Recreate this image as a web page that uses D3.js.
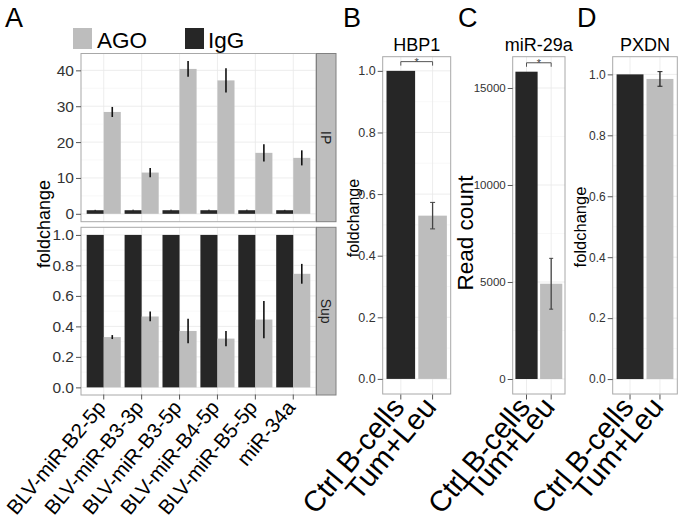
<!DOCTYPE html>
<html><head><meta charset="utf-8">
<script src="https://cdn.jsdelivr.net/npm/d3@7"></script>
<style>
html,body{margin:0;padding:0;background:#fff;}
svg text{font-family:"Liberation Sans",Arial,Helvetica,sans-serif;}
</style></head>
<body><svg id="c" width="680" height="526"></svg>
<script>
// ---------- DATA ----------
const mirs = ["BLV-miR-B2-5p","BLV-miR-B3-3p","BLV-miR-B3-5p","BLV-miR-B4-5p","BLV-miR-B5-5p","miR-34a"];
const ipAGO = [28.4, 11.5, 40.4, 37.2, 17.0, 15.6];
const ipAGOerr = [1.4, 1.3, 2.2, 3.4, 2.4, 2.1];
const ipIgG = [1, 1, 1, 1, 1, 1];
const ipIgGerr = [0.1, 0.1, 0.1, 0.1, 0.1, 0.1];
const supAGO = [0.33, 0.465, 0.37, 0.32, 0.445, 0.745];
const supAGOerr = [0.013, 0.032, 0.08, 0.05, 0.122, 0.065];
const supIgG = [1, 1, 1, 1, 1, 1];
const supIgGerr = [0, 0, 0, 0, 0, 0];
const groups = ["Ctrl B-cells", "Tum+Leu"];
const hbp1 = [1.0, 0.53];
const hbp1Err = [0, 0.043];
const mir29a = [15840, 4910];
const mir29aErr = [0, 1310];
const pxdn = [1.0, 0.985];
const pxdnErr = [0, 0.024];
const legendLabels = ["AGO", "IgG"];
const ticksFold = [0, 0.2, 0.4, 0.6, 0.8, 1.0];
const minorFold = [0.1, 0.3, 0.5, 0.7, 0.9];
const ticksIP = [0, 10, 20, 30, 40];
const minorIP = [5, 15, 25, 35];
const ticksRead = [0, 5000, 10000, 15000];
const minorRead = [2500, 7500, 12500];

// ---------- STYLE ----------
const DARK = "#262626", GREY = "#bdbdbd";
const svg = d3.select("#c");

function panel(o) {
  const g = svg.append("g");
  const x = d3.scaleLinear().domain(o.xdom).range([o.x0, o.x1]);
  const y = d3.scaleLinear().domain(o.ydom).range([o.y1, o.y0]);
  g.append("rect").attr("x", o.x0).attr("y", o.y0).attr("width", o.x1 - o.x0).attr("height", o.y1 - o.y0).attr("fill", "#fff");
  g.selectAll(".mn").data(o.minor).enter().append("line")
    .attr("x1", o.x0).attr("x2", o.x1).attr("y1", d => y(d)).attr("y2", d => y(d))
    .attr("stroke", "#f4f4f4").attr("stroke-width", 0.6);
  g.selectAll(".mj").data(o.ticks).enter().append("line")
    .attr("x1", o.x0).attr("x2", o.x1).attr("y1", d => y(d)).attr("y2", d => y(d))
    .attr("stroke", "#e8e8e8").attr("stroke-width", 0.8);
  g.selectAll(".vx").data(o.cats).enter().append("line")
    .attr("x1", (d, i) => x(i + 1)).attr("x2", (d, i) => x(i + 1)).attr("y1", o.y0).attr("y2", o.y1)
    .attr("stroke", "#e8e8e8").attr("stroke-width", 0.8);
  o.series.forEach(s => {
    g.selectAll(null).data(s.vals).enter().append("rect")
      .attr("x", (d, i) => x(i + 1 + s.off))
      .attr("width", (d, i) => x(i + 1 + s.off + s.w) - x(i + 1 + s.off))
      .attr("y", d => y(d)).attr("height", d => y(0) - y(d))
      .attr("fill", (d, i) => s.colors ? s.colors[i] : s.color);
    s.vals.forEach((v, i) => {
      const e = s.err[i];
      if (!e) return;
      const cx = x(i + 1 + s.off + s.w / 2);
      g.append("line").attr("x1", cx).attr("x2", cx).attr("y1", y(v - e)).attr("y2", y(v + e))
        .attr("stroke", o.errColor).attr("stroke-width", o.errW);
      if (o.cap) {
        [v - e, v + e].forEach(t => g.append("line").attr("x1", cx - o.cap).attr("x2", cx + o.cap)
          .attr("y1", y(t)).attr("y2", y(t)).attr("stroke", o.errColor).attr("stroke-width", 1));
      }
    });
  });
  g.append("rect").attr("x", o.x0).attr("y", o.y0).attr("width", o.x1 - o.x0).attr("height", o.y1 - o.y0)
    .attr("fill", "none").attr("stroke", "#a8a8a8").attr("stroke-width", 1);
  const ya = g.append("g").attr("transform", `translate(${o.x0},0)`)
    .call(d3.axisLeft(y).tickValues(o.ticks).tickSize(5).tickPadding(2).tickFormat(o.fmt));
  ya.select(".domain").remove();
  ya.selectAll("line").attr("stroke", "#555");
  ya.selectAll("text").attr("font-size", o.tickFs).attr("fill", "#333");
  return {g, x, y};
}

function xLabels(x, cats, yEnd, dxEnd, fs, ang) {
  svg.selectAll(null).data(cats).enter().append("text")
    .attr("transform", (d, i) => `translate(${x(i + 1) + dxEnd},${yEnd}) rotate(${-ang})`)
    .attr("text-anchor", "end")
    .attr("font-size", fs).attr("fill", "#000").text(d => d);
  svg.selectAll(null).data(cats).enter().append("line")
    .attr("x1", (d, i) => x(i + 1)).attr("x2", (d, i) => x(i + 1))
    .attr("y1", 394.5).attr("y2", 399.5).attr("stroke", "#555");
}

function bracket(x, y, yv, fs) {
  const yy = y(yv);
  svg.append("path").attr("d", `M${x(1)},${yy + 4}V${yy}H${x(2)}V${yy + 4}`)
    .attr("fill", "none").attr("stroke", "#555").attr("stroke-width", 1);
  svg.append("text").attr("x", (x(1) + x(2)) / 2).attr("y", yy + 4.5).attr("text-anchor", "middle")
    .attr("font-size", fs).attr("fill", "#444").text("*");
}

// ---------- PANEL A ----------
const catsA = mirs;
const ipP = panel({x0: 81, x1: 316, y0: 53.5, y1: 221.7, xdom: [0.4, 6.6], ydom: [-2.2, 44.7],
  ticks: ticksIP, minor: minorIP, cats: catsA, tickFs: 15.5, fmt: d3.format("d"),
  errColor: "#111", errW: 1.6, cap: 0,
  series: [{vals: ipIgG, err: ipIgGerr, off: -0.45, w: 0.45, color: DARK},
           {vals: ipAGO, err: ipAGOerr, off: 0, w: 0.45, color: GREY}]});
const supP = panel({x0: 81, x1: 316, y0: 227.3, y1: 395, xdom: [0.4, 6.6], ydom: [-0.05, 1.05],
  ticks: ticksFold, minor: minorFold, cats: catsA, tickFs: 15.5, fmt: d3.format(".1f"),
  errColor: "#111", errW: 1.6, cap: 0,
  series: [{vals: supIgG, err: supIgGerr, off: -0.45, w: 0.45, color: DARK},
           {vals: supAGO, err: supAGOerr, off: 0, w: 0.45, color: GREY}]});
[["IP", 53.5, 221.7], ["Sup", 227.3, 395]].forEach(([t, a, b]) => {
  svg.append("rect").attr("x", 316.5).attr("y", a).attr("width", 19.5).attr("height", b - a)
    .attr("fill", GREY).attr("stroke", "#808080").attr("stroke-width", 1);
  svg.append("text").attr("transform", `translate(${326.2},${(a + b) / 2}) rotate(90)`)
    .attr("text-anchor", "middle").attr("dy", "0.35em").attr("font-size", 14).attr("fill", "#222").text(t);
});
xLabels(supP.x, catsA, 408, 3, 20.5, 50);
svg.append("text").attr("transform", "translate(50,224) rotate(-90)").attr("text-anchor", "middle")
  .attr("font-size", 18).text("foldchange");
const legColors = [GREY, DARK];
const legX = [73, 185];
legendLabels.forEach((t, i) => {
  svg.append("rect").attr("x", legX[i]).attr("y", 28).attr("width", 19).attr("height", 21).attr("fill", legColors[i]);
  svg.append("text").attr("x", legX[i] + (i ? 23 : 24)).attr("y", 48).attr("font-size", 22.5).text(t);
});

const pairCols = [DARK, GREY];
// ---------- PANEL B ----------
const bP = panel({x0: 382.7, x1: 450.7, y0: 56.7, y1: 394, xdom: [0.43, 2.57], ydom: [-0.049, 1.046],
  ticks: ticksFold, minor: minorFold, cats: groups, tickFs: 12.5, fmt: d3.format(".1f"),
  errColor: "#444", errW: 1.3, cap: 2.5,
  series: [{vals: hbp1, err: hbp1Err, off: -0.45, w: 0.9, colors: pairCols}]});
xLabels(bP.x, groups, 408, 5, 29, 50);
bracket(bP.x, bP.y, 1.03, 11);
svg.append("text").attr("x", (382.7 + 450.7) / 2).attr("y", 51).attr("text-anchor", "middle").attr("font-size", 18).text("HBP1");
svg.append("text").attr("transform", "translate(359,218) rotate(-90)").attr("text-anchor", "middle")
  .attr("font-size", 16).text("foldchange");

// ---------- PANEL C ----------
const cP = panel({x0: 512.7, x1: 565, y0: 56.7, y1: 394, xdom: [0.44, 2.56], ydom: [-773, 16613],
  ticks: ticksRead, minor: minorRead, cats: groups, tickFs: 11.5, fmt: d3.format("d"),
  errColor: "#444", errW: 1.3, cap: 2,
  series: [{vals: mir29a, err: mir29aErr, off: -0.45, w: 0.9, colors: pairCols}]});
xLabels(cP.x, groups, 408, 5, 29, 50);
bracket(cP.x, cP.y, 16300, 11);
svg.append("text").attr("x", (512.7 + 565) / 2).attr("y", 51).attr("text-anchor", "middle").attr("font-size", 18).text("miR-29a");
svg.append("text").attr("transform", "translate(473,233) rotate(-90)").attr("text-anchor", "middle")
  .attr("font-size", 22.5).text("Read count");

// ---------- PANEL D ----------
const dP = panel({x0: 612.7, x1: 677.3, y0: 56.7, y1: 394, xdom: [0.42, 2.58], ydom: [-0.049, 1.058],
  ticks: ticksFold, minor: minorFold, cats: groups, tickFs: 12, fmt: d3.format(".1f"),
  errColor: "#222", errW: 1.3, cap: 2.5,
  series: [{vals: pxdn, err: pxdnErr, off: -0.45, w: 0.9, colors: pairCols}]});
xLabels(dP.x, groups, 408, 5, 29, 50);
svg.append("text").attr("x", (612.7 + 677.3) / 2).attr("y", 51).attr("text-anchor", "middle").attr("font-size", 18).text("PXDN");
svg.append("text").attr("transform", "translate(586,227) rotate(-90)").attr("text-anchor", "middle")
  .attr("font-size", 16.5).text("foldchange");

[["A", 5], ["B", 343], ["C", 458], ["D", 577]].forEach(([t, xx]) => {
  svg.append("text").attr("x", xx).attr("y", 27).attr("font-size", 27).text(t);
});
</script></body></html>
